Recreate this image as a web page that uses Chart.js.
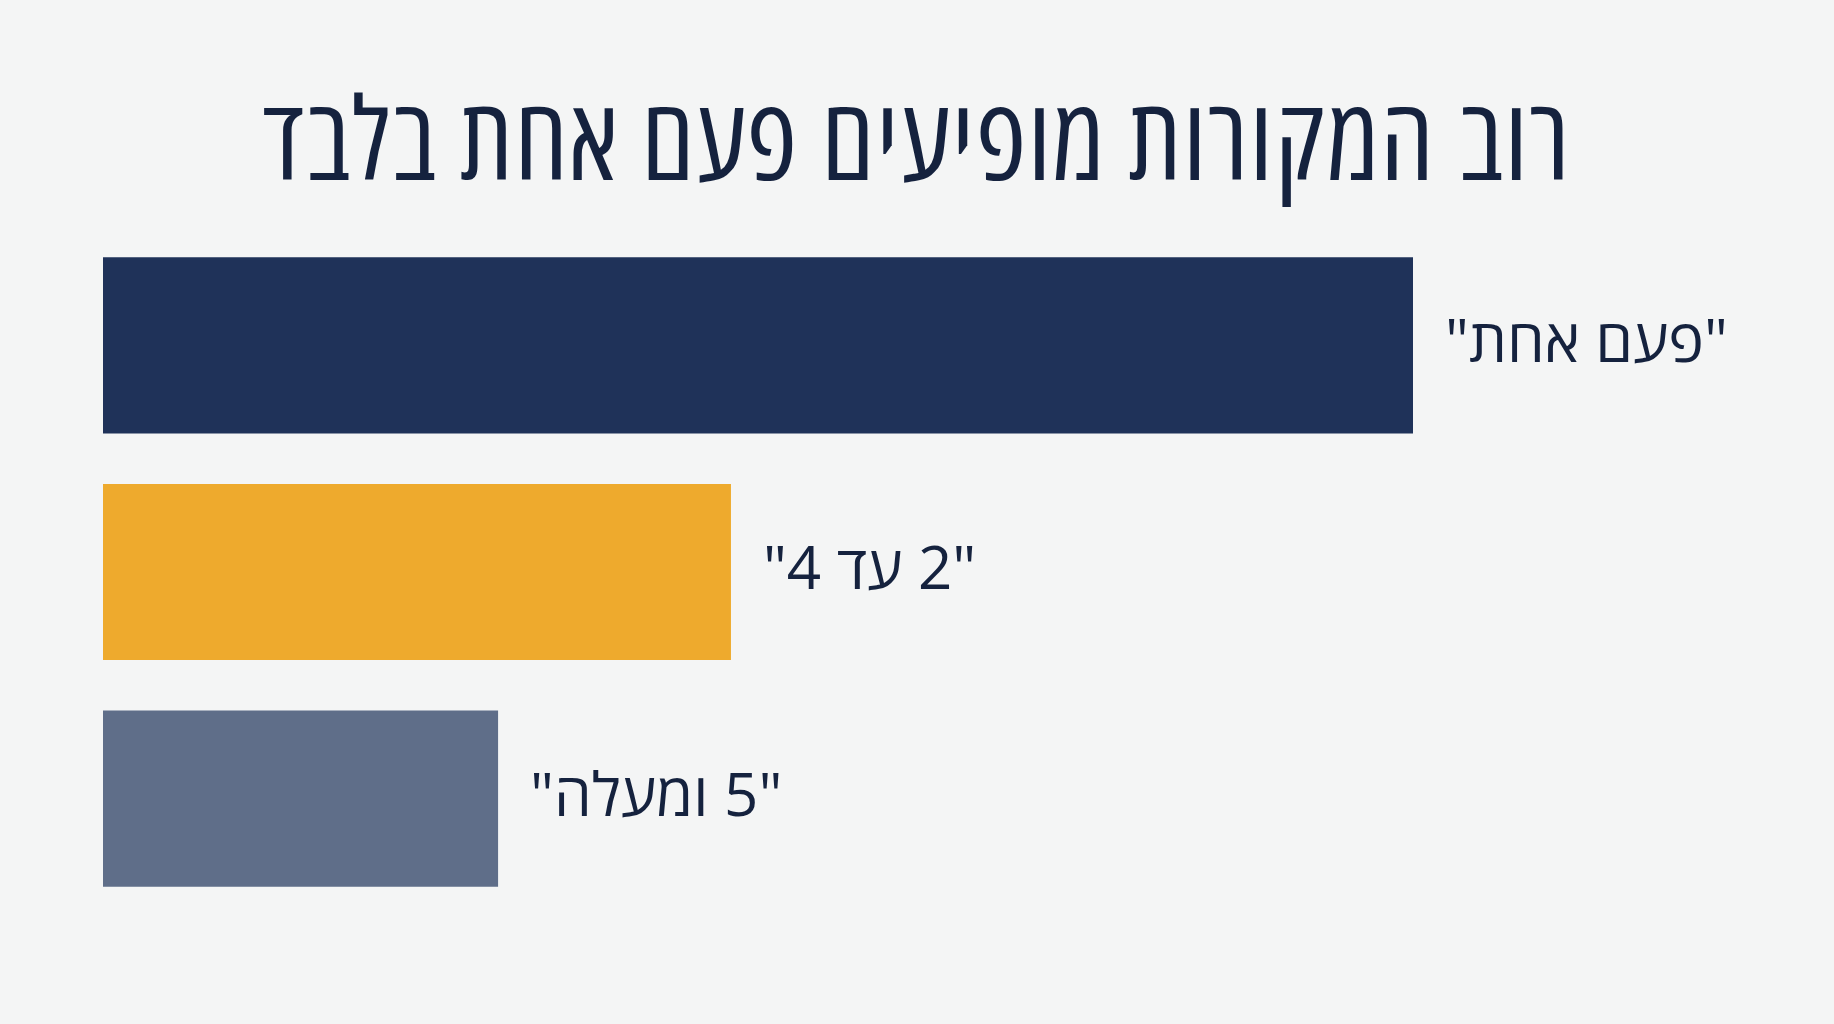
<!DOCTYPE html>
<html lang="he">
<head>
<meta charset="utf-8">
<title>רוב המקורות מופיעים פעם אחת בלבד</title>
<script src="https://cdn.jsdelivr.net/npm/chart.js@4.4.1/dist/chart.umd.min.js"></script>
<style>
  html, body {
    margin: 0;
    padding: 0;
    background: #f4f5f5;
  }
  .chart-wrap {
    width: 1834px;
    height: 1024px;
    position: relative;
  }
</style>
</head>
<body>
<div class="chart-wrap">
  <canvas id="chart"></canvas>
</div>

<script>
// data
const categories = ['"פעם אחת"', '"2 עד 4"', '"5 ומעלה"'];
const values = [63, 30.2, 19];
const barColors = ['#1f3259', '#eeaa2d', '#5f6e89'];
const chartTitle = 'רוב המקורות מופיעים פעם אחת בלבד';

const textColor = '#15223e';
const fontFamily = '"Open Sans", "DejaVu Sans", sans-serif';

// title centred on the whole canvas (the plot area itself is off-centre)
const pageTitle = {
  id: 'pageTitle',
  afterDraw(chart) {
    const ctx = chart.ctx;
    ctx.save();
    ctx.font = '500 114px ' + fontFamily;
    if ('fontStretch' in ctx) ctx.fontStretch = 'semi-condensed';
    if ('letterSpacing' in ctx) ctx.letterSpacing = '1.5px';
    ctx.fillStyle = textColor;
    ctx.direction = 'rtl';
    ctx.textAlign = 'center';
    ctx.textBaseline = 'alphabetic';
    ctx.fillText(chartTitle, chart.width / 2, 180);
    ctx.restore();
  }
};

// labels next to the end of every bar, drawn right-to-left
const barLabels = {
  id: 'barLabels',
  afterDatasetsDraw(chart) {
    const ctx = chart.ctx;
    const meta = chart.getDatasetMeta(0);
    ctx.save();
    ctx.font = '400 60px ' + fontFamily;
    ctx.fillStyle = textColor;
    ctx.direction = 'rtl';
    ctx.textAlign = 'left';
    ctx.textBaseline = 'middle';
    meta.data.forEach((bar, i) => {
      ctx.fillText(chart.data.labels[i], bar.x + 32, bar.y);
    });
    ctx.restore();
  }
};

new Chart(document.getElementById('chart'), {
  type: 'bar',
  data: {
    labels: categories,
    datasets: [{
      data: values,
      backgroundColor: barColors,
      borderWidth: 0,
      categoryPercentage: 1,
      barPercentage: 0.777
    }]
  },
  options: {
    indexAxis: 'y',
    responsive: true,
    maintainAspectRatio: false,
    animation: false,
    layout: {
      padding: { top: 232, left: 103, right: 421, bottom: 112 }
    },
    scales: {
      x: { display: false, min: 0, max: values[0] },
      y: { display: false }
    },
    plugins: {
      legend: { display: false },
      tooltip: { enabled: false },
      title: { display: false }
    }
  },
  plugins: [barLabels, pageTitle]
});
</script>
</body>
</html>
